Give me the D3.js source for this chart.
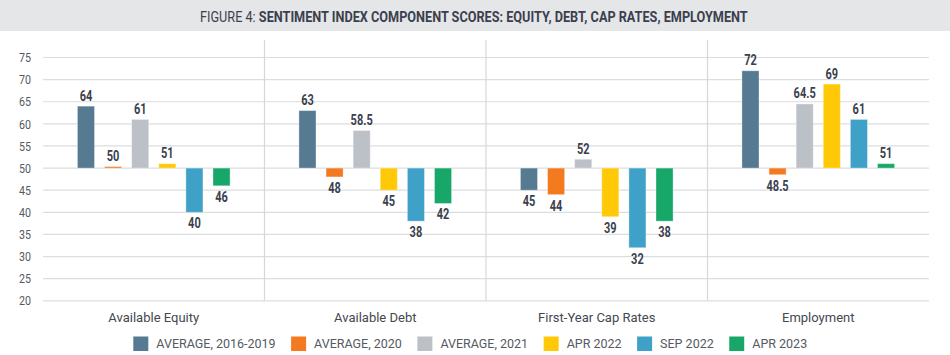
<!DOCTYPE html>
<html><head><meta charset="utf-8">
<script src="https://cdn.jsdelivr.net/npm/d3@7"></script>
<style>body{margin:0;background:#fff} svg{display:block}</style>
</head><body><svg id="c" width="950" height="355"></svg>
<script>
const categories = ["Available Equity","Available Debt","First-Year Cap Rates","Employment"];
const seriesNames = ["AVERAGE, 2016-2019","AVERAGE, 2020","AVERAGE, 2021","APR 2022","SEP 2022","APR 2023"];
const seriesColors = ["#557a91","#f47a20","#bcc0c7","#ffc907","#3fa1c7","#17a768"];
const avg2016_2019 = [64, 63, 45, 72];
const avg2020 = [50, 48, 44, 48.5];
const avg2021 = [61, 58.5, 52, 64.5];
const apr2022 = [51, 45, 39, 69];
const sep2022 = [40, 38, 32, 61];
const apr2023 = [46, 42, 38, 51];
const yTicks = [20, 25, 30, 35, 40, 45, 50, 55, 60, 65, 70, 75];
const baseline = 50;
const titlePrefix = "FIGURE 4: ";
const titleMain = "SENTIMENT INDEX COMPONENT SCORES: EQUITY, DEBT, CAP RATES, EMPLOYMENT";

const seriesValues = [avg2016_2019, avg2020, avg2021, apr2022, sep2022, apr2023];
const data = [];
categories.forEach((c, ci) => seriesNames.forEach((s, si) => data.push({cat: c, series: s, value: seriesValues[si][ci], color: seriesColors[si]})));

const svg = d3.select("#c");
const FONT = "Roboto, 'Open Sans', sans-serif";

// title bar
svg.append("rect").attr("x", 0).attr("y", 0).attr("width", 950).attr("height", 31).attr("fill", "#e5e6e8");
const tg = svg.append("g");
const tt = tg.append("text").attr("font-family", FONT).attr("font-size", 15.5).attr("fill", "#3b3f4e");
tt.append("tspan").attr("font-weight", 400).text(titlePrefix);
tt.append("tspan").attr("font-weight", 700).text(titleMain);
const tw = tt.node().getComputedTextLength();
const tScale = 548 / tw;
tg.attr("transform", `translate(${474 - 274},21.5) scale(${tScale},1)`);

const x0 = d3.scaleBand().domain(categories).range([43, 929]).padding(0);
const x1 = d3.scaleBand().domain(seriesNames).range([0, x0.bandwidth()]).paddingInner(0.37).paddingOuter(1.27);
const y = d3.scaleLinear().domain([20, 75]).range([300.8, 57.5]);

// gridlines
svg.append("g").selectAll("line").data(yTicks).join("line")
  .attr("x1", x0.range()[0]).attr("x2", x0.range()[1])
  .attr("y1", d => y(d)).attr("y2", d => y(d))
  .attr("stroke", "#dcdde0").attr("stroke-width", 1.2);

// separators
svg.append("g").selectAll("line").data(categories.slice(1)).join("line")
  .attr("x1", d => x0(d)).attr("x2", d => x0(d))
  .attr("y1", 40).attr("y2", y(20))
  .attr("stroke", "#d6d7db").attr("stroke-width", 1.2);

// y labels
svg.append("g").selectAll("g").data(yTicks).join("g")
  .attr("transform", d => `translate(31,${y(d)}) scale(0.82,1)`)
  .append("text").attr("text-anchor", "end").attr("dy", "0.36em")
  .attr("font-family", FONT).attr("font-size", 13).attr("fill", "#555a62")
  .text(d => d);

// bars
const minH = 1.5;
svg.append("g").selectAll("rect").data(data).join("rect")
  .attr("x", d => x0(d.cat) + x1(d.series))
  .attr("width", x1.bandwidth())
  .attr("y", d => d.value >= baseline ? Math.min(y(d.value), y(baseline) - minH) : y(baseline))
  .attr("height", d => Math.max(minH, Math.abs(y(d.value) - y(baseline))))
  .attr("fill", d => d.color)
  .attr("stroke", "rgba(255,255,255,0.35)").attr("stroke-width", 1);

// value labels
svg.append("g").selectAll("g").data(data).join("g")
  .attr("transform", d => {
    const cx = x0(d.cat) + x1(d.series) + x1.bandwidth() / 2;
    const top = Math.min(y(d.value), y(baseline) - minH);
    const yy = d.value >= baseline ? top - 5.5 : y(d.value) + 16;
    return `translate(${cx},${yy}) scale(0.76,1)`;
  })
  .append("text").attr("text-anchor", "middle")
  .attr("font-family", FONT).attr("font-weight", 700).attr("font-size", 14.5).attr("fill", "#3b3f4e")
  .text(d => d.value);

// category labels
svg.append("g").selectAll("text").data(categories).join("text")
  .attr("x", d => x0(d) + x0.bandwidth() / 2).attr("y", 322)
  .attr("text-anchor", "middle").attr("font-family", FONT).attr("font-size", 13).attr("fill", "#44484f")
  .text(d => d);

// legend
const lg = svg.append("g");
let lx = 133.3;
seriesNames.forEach((s, i) => {
  const g = lg.append("g").attr("transform", `translate(${lx},0)`);
  g.append("rect").attr("x", 0).attr("y", 336.5).attr("width", 15).attr("height", 14.5).attr("fill", seriesColors[i]);
  const t = g.append("text").attr("x", 23).attr("y", 348.3)
    .attr("font-family", FONT).attr("font-size", 12.5).attr("fill", "#555a62").text(s);
  lx += 23 + t.node().getComputedTextLength() + 15.5;
});
</script></body></html>
